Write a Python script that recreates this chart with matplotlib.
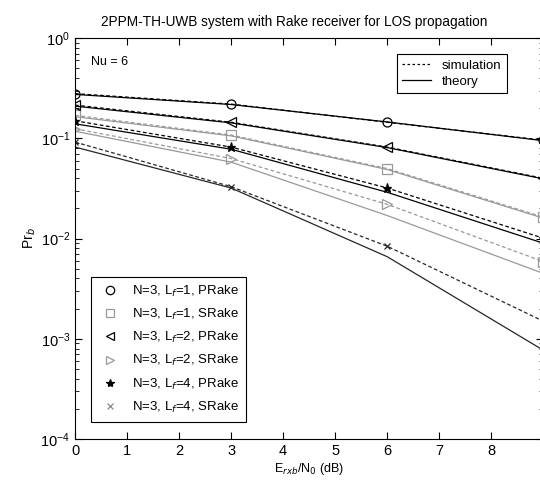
import matplotlib
matplotlib.use("Agg")
import matplotlib.pyplot as plt
from matplotlib.lines import Line2D
from matplotlib.ticker import LogLocator, NullFormatter

plt.rcParams["font.family"] = ["Liberation Sans", "DejaVu Sans"]

# Eb/N0 points (dB)
ebno = [0, 3, 6, 9]

# simulated and theoretical bit error probability for N=3
sim_p1 = [0.28, 0.22, 0.145, 0.096]
th_p1 = [0.275, 0.218, 0.146, 0.095]
sim_s1 = [0.17, 0.108, 0.050, 0.0164]
th_s1 = [0.165, 0.106, 0.049, 0.0160]
sim_p2 = [0.215, 0.145, 0.082, 0.040]
th_p2 = [0.21, 0.143, 0.081, 0.0395]
sim_s2 = [0.125, 0.063, 0.022, 0.0059]
th_s2 = [0.118, 0.058, 0.017, 0.0045]
sim_p4 = [0.150, 0.082, 0.032, 0.0101]
th_p4 = [0.140, 0.078, 0.029, 0.0090]
sim_s4 = [0.092, 0.033, 0.0084, 0.0015]
th_s4 = [0.082, 0.032, 0.0066, 0.00077]

labels = ["N=3, L$_f$=1, PRake", "N=3, L$_f$=1, SRake",
          "N=3, L$_f$=2, PRake", "N=3, L$_f$=2, SRake",
          "N=3, L$_f$=4, PRake", "N=3, L$_f$=4, SRake"]

# (sim, theory, marker, line colour, legend marker colour)
series = [
    (sim_p1, th_p1, "o", "black", "black"),
    (sim_s1, th_s1, "s", "0.6", "0.6"),
    (sim_p2, th_p2, "<", "black", "black"),
    (sim_s2, th_s2, ">", "0.6", "0.6"),
    (sim_p4, th_p4, "*", "black", "black"),
    (sim_s4, th_s4, "x", "0.15", "0.55"),
]

fig = plt.figure(figsize=(5.4, 4.84), dpi=100)
ax = fig.add_axes([0.139, 0.093, 0.867, 0.828])

for sim, th, mk, col, lcol in series:
    ax.semilogy(ebno, sim, linestyle="--", color=col, linewidth=0.9,
                marker=mk, markersize=6.5 if mk != "x" else 5,
                markerfacecolor="none" if mk not in ("*", "x") else col,
                markeredgecolor=col, markeredgewidth=0.9,
                dashes=(3, 2))
    ax.semilogy(ebno, th, linestyle="-", color=col, linewidth=0.9)

ax.set_xlim(0, 9)
ax.set_ylim(1e-4, 1)
ax.set_xticks(range(10))
ax.set_xticklabels([str(i) for i in range(9)] + [""])
ax.yaxis.set_major_locator(LogLocator(base=10, numticks=10))
ax.yaxis.set_minor_locator(LogLocator(base=10, subs=range(2, 10), numticks=10))
ax.yaxis.set_minor_formatter(NullFormatter())
ax.tick_params(which="both", direction="in", top=True, right=True, labelsize=10.5)
ax.tick_params(which="major", length=5)
ax.tick_params(which="minor", length=3)

ax.set_title("2PPM-TH-UWB system with Rake receiver for LOS propagation",
             fontsize=9.8, pad=9, x=0.468)
ax.set_xlabel("E$_{rxb}$/N$_0$ (dB)", fontsize=9, labelpad=2)
ax.set_ylabel("Pr$_b$", fontsize=10, labelpad=2)
ax.text(0.3, 0.575, "Nu = 6", fontsize=9, va="center")

# top-right legend: line styles
style_handles = [
    Line2D([], [], color="black", linestyle="--", dashes=(2, 2), linewidth=0.9),
    Line2D([], [], color="black", linestyle="-", linewidth=0.9),
]
leg1 = ax.legend(style_handles, ["simulation", "theory"], loc="upper right",
                 bbox_to_anchor=(0.936, 0.977), fontsize=9.5, fancybox=False,
                 edgecolor="black", framealpha=1, handlelength=2.2,
                 borderpad=0.4, labelspacing=0.3)
leg1.get_frame().set_linewidth(0.8)
ax.add_artist(leg1)

# bottom-left legend: markers only
marker_handles = []
for sim, th, mk, col, lcol in series:
    marker_handles.append(Line2D([], [], linestyle="none", marker=mk, color=lcol,
                                 markersize=6 if mk != "x" else 4,
                                 markerfacecolor="none" if mk not in ("*", "x") else lcol,
                                 markeredgecolor=lcol, markeredgewidth=0.9))
leg2 = ax.legend(marker_handles, labels, loc="lower left",
                 bbox_to_anchor=(0.021, 0.027), fontsize=9.5, fancybox=False,
                 edgecolor="black", framealpha=1, handlelength=1.8,
                 borderpad=0.5, labelspacing=0.62)
leg2.get_frame().set_linewidth(0.8)

fig.savefig("out.png", dpi=100)
